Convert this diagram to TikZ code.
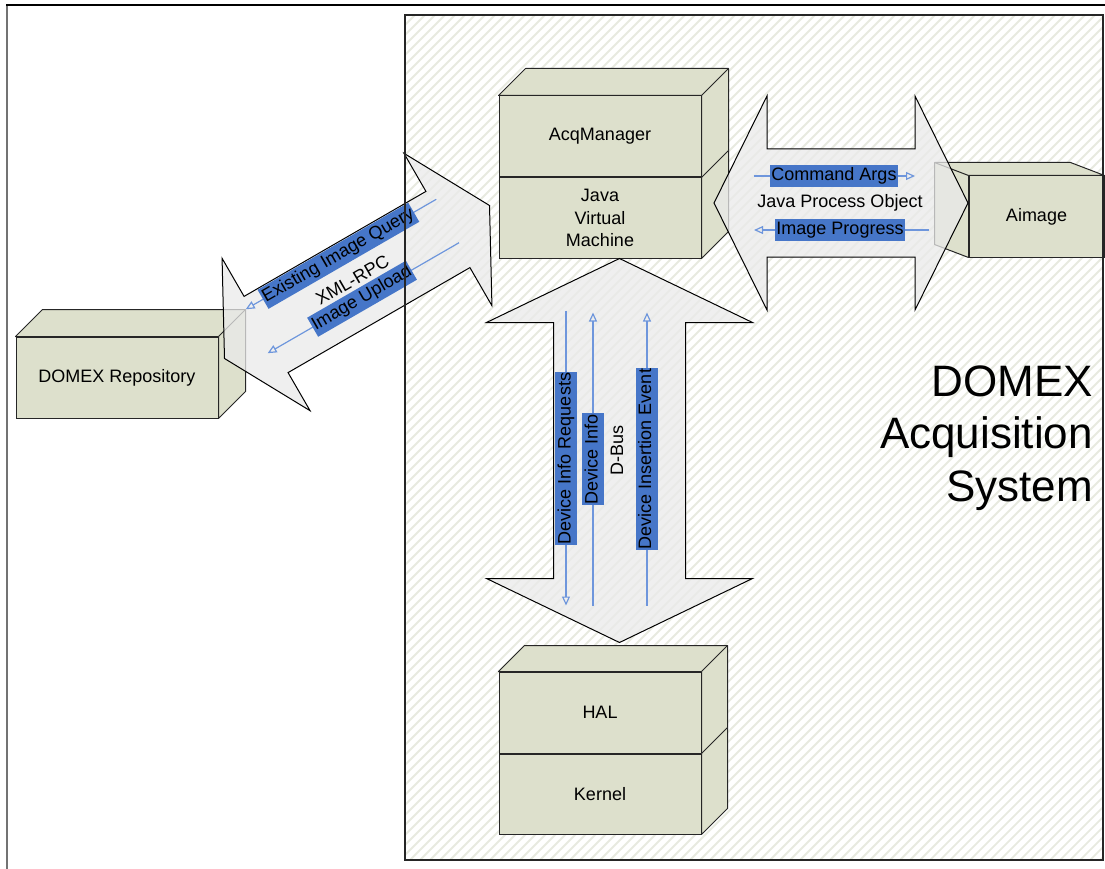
\documentclass[tikz,border=0pt]{standalone}
\usepackage{fontspec}
\setmainfont{Liberation Sans}
\usepackage{xcolor}
\usepackage{tikz}
\usetikzlibrary{arrows.meta,positioning}

\definecolor{boxfill}{RGB}{221,224,204}
\definecolor{hatchgrey}{RGB}{232,234,224}
\definecolor{pipegrey}{RGB}{234,234,234}
\definecolor{msgblue}{RGB}{70,118,200}
\definecolor{msgline}{RGB}{110,150,220}

\begin{document}
\begin{tikzpicture}[
        x=1pt, y=-1pt,
        font=\fontsize{18}{22.5}\selectfont,
        cubeface/.style={draw=black!85, line width=1pt, fill=boxfill, minimum width=202pt, inner sep=0pt, align=center},
        cubeside/.style={draw=black!85, line width=1pt, fill=boxfill, line join=round},
        pipe/.style={draw=black, line width=1pt, fill=pipegrey, fill opacity=0.75},
        msg/.style={fill=msgblue, inner xsep=1pt, inner ysep=2.5pt, text height=13pt, text depth=4pt},
        flow/.style={draw=msgline, line width=1.2pt, -{Triangle[open, length=9pt, width=8pt]}}
    ]
        \useasboundingbox (0,0) rectangle (1105,869);
        \draw[black!55, line width=2pt] (7,869) -- (7,5);
        \draw[line width=1.5pt] (6,5) -- (1105,5);

        \begin{scope}
            \clip (405,15) rectangle (1103,860);
            \foreach \x in {-450,-440,...,1110}
                \draw[color=hatchgrey, line width=1.8pt] (\x,860) -- ++(845,-845);
        \end{scope}

        \node[cubeface, minimum height=81pt] (repo) at (117,377.5) {DOMEX Repository};
        \draw[cubeside] (repo.north west) -- ++(27,-27) -| ([shift={(27,-27)}]repo.south east) -- (repo.south east) -- (repo.north east) -- cycle;
        \draw[cubeside] (repo.north east) -- ++(27,-27);

        \node[cubeface, minimum height=81pt] (acq) at (600,136.5) {AcqManager};
        \node[cubeface, minimum height=80pt, below=0pt of acq] (jvm) {Java\\Virtual\\Machine};
        \draw[cubeside] (acq.north west) -- ++(27,-27) -| ([shift={(27,-27)}]jvm.south east) -- (jvm.south east) -- (acq.north east) -- cycle;
        \draw[cubeside] (acq.north east) -- ++(27,-27) (jvm.north east) -- ++(27,-27);

        \node[cubeface, minimum height=81pt] (hal) at (600,712.5) {HAL};
        \node[cubeface, minimum height=80pt, below=0pt of hal] (kernel) {Kernel};
        \draw[cubeside] (hal.north west) -- ++(26,-26) -| ([shift={(26,-26)}]kernel.south east) -- (kernel.south east) -- (hal.north east) -- cycle;
        \draw[cubeside] (hal.north east) -- ++(26,-26) (kernel.north east) -- ++(26,-26);

        \node[cubeface, minimum width=135pt, minimum height=81pt] (aimage) at (1036.5,216.5) {Aimage};
        \draw[cubeside] (aimage.north east) -- ++(-34,-13) -| ([shift={(-34,-13)}]aimage.south west) -- (aimage.south west) -- (aimage.north west) -- cycle;
        \draw[cubeside] (aimage.north west) -- ++(-34,-13);

        \begin{scope}[shift={(357,282)}, rotate=30]
            \draw[pipe] (-153,0) -- (-105,-88) -- (-105,-44) -- (105,-44) -- (105,-88) -- (153,0) -- (105,88) -- (105,44) -- (-105,44) -- (-105,88) -- cycle;
            \coordinate (query-s) at (110,-32);
            \coordinate (query-e) at (-110,-32);
            \coordinate (upload-s) at (108,17);
            \coordinate (upload-e) at (-113,17);
            \draw[flow] (query-s) -- (query-e);
            \draw[flow] (upload-s) -- (upload-e);
            \node[msg, rotate=30] (query) at (-3,-32) {Existing Image Query};
            \node[rotate=30] (xmlrpc) at (-3,-4) {XML-RPC};
            \node[msg, rotate=30] (upload) at (-4,17) {Image Upload};
        \end{scope}

        \begin{scope}[shift={(841,203)}]
            \draw[pipe] (-127,0) -- (-74,-107) -- (-74,-54) -- (74,-54) -- (74,-107) -- (127,0) -- (74,107) -- (74,54) -- (-74,54) -- (-74,107) -- cycle;
            \coordinate (args-s) at (-87,-27);
            \coordinate (args-e) at (74,-27);
            \coordinate (progress-s) at (88,27);
            \coordinate (progress-e) at (-87,27);
            \draw[flow] (args-s) -- (args-e);
            \draw[flow] (progress-s) -- (progress-e);
            \node[msg] (args) at (-7,-27) {Command Args};
            \node (jpo) at (-1,0) {Java Process Object};
            \node[msg] (progress) at (-1,27) {Image Progress};
        \end{scope}

        \begin{scope}[shift={(619.5,450.5)}]
            \draw[pipe] (0,-192) -- (133,-128) -- (66,-128) -- (66,128) -- (133,128) -- (0,192) -- (-133,128) -- (-66,128) -- (-66,-128) -- (-133,-128) -- cycle;
            \coordinate (requests-s) at (-53.5,-140);
            \coordinate (requests-e) at (-53.5,155);
            \coordinate (info-s) at (-26.5,155);
            \coordinate (info-e) at (-26.5,-138);
            \coordinate (insert-s) at (27.5,155);
            \coordinate (insert-e) at (27.5,-138);
            \draw[flow] (requests-s) -- (requests-e);
            \draw[flow] (info-s) -- (info-e);
            \draw[flow] (insert-s) -- (insert-e);
            \node[msg, rotate=90] (requests) at (-53.5,8) {Device Info Requests};
            \node[msg, rotate=90] (info) at (-26.5,8.5) {Device Info};
            \node[rotate=90] (dbus) at (-2.5,0) {D-Bus};
            \node[msg, rotate=90] (insert) at (27,8.5) {Device Insertion Event};
        \end{scope}

        \draw[black!85, line width=2pt] (405,15) rectangle (1103,860);

        \node[font=\fontsize{44}{52.5}\selectfont, align=right, anchor=east, inner sep=0pt] (title) at (1093,438) {DOMEX\\Acquisition\\System};
    \end{tikzpicture}
\end{document}
